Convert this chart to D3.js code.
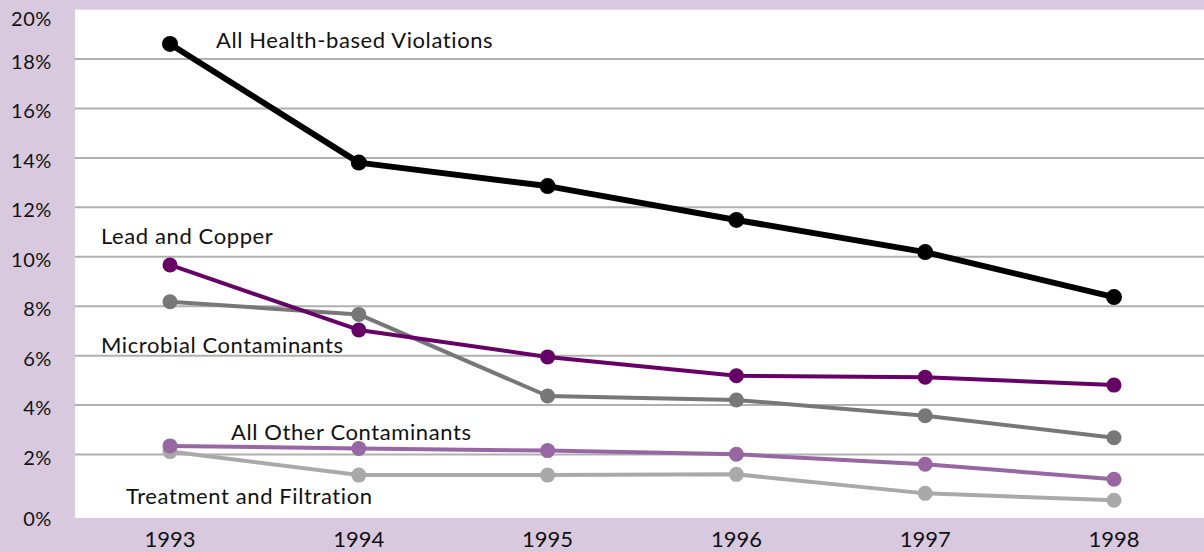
<!DOCTYPE html>
<html><head><meta charset="utf-8">
<script src="https://cdn.jsdelivr.net/npm/d3@7"></script>
<style>html,body{margin:0;padding:0;background:#d9c9df;}svg{display:block;}text{font-variant-ligatures:none;}</style>
</head><body><svg id="c" width="1204" height="552"></svg>
<script>
const years = ["1993","1994","1995","1996","1997","1998"];
const yTicks = [0,2,4,6,8,10,12,14,16,18,20];
const allHealth = [18.61,13.81,12.86,11.49,10.19,8.37];
const leadCopper = [9.67,7.04,5.95,5.19,5.13,4.81];
const microbial = [8.18,7.67,4.37,4.21,3.57,2.68];
const allOther = [2.35,2.25,2.16,2.01,1.61,1.00];
const treatment = [2.12,1.17,1.17,1.20,0.43,0.15];
const seriesNames = ["Treatment and Filtration","All Other Contaminants","Microbial Contaminants","Lead and Copper","All Health-based Violations"];

const series = [
  {name:seriesNames[0], values:treatment, color:"#a9a9a9", w:4, r:7.5, lx:126, ly:495},
  {name:seriesNames[1], values:allOther, color:"#9866a2", w:4, r:7.5, lx:231, ly:431},
  {name:seriesNames[2], values:microbial, color:"#777777", w:4, r:7.5, lx:101, ly:344},
  {name:seriesNames[3], values:leadCopper, color:"#660066", w:4, r:7.5, lx:101, ly:235},
  {name:seriesNames[4], values:allHealth, color:"#000000", w:6, r:8, lx:216, ly:39}
];

const FONT = "Lato, 'DejaVu Sans', sans-serif";
const svg = d3.select("#c");
const W = 1204, H = 552;
const x = d3.scalePoint().domain(years).range([170,1114]);
const y = d3.scaleLinear().domain([0,20]).range([504,9.6]);
const plotLeft = 75, plotTop = y(20), plotBottom = y(0)+14;

svg.append("rect").attr("width",W).attr("height",H).attr("fill","#d9c9df");
svg.append("rect").attr("x",plotLeft).attr("y",plotTop).attr("width",W-plotLeft).attr("height",plotBottom-plotTop).attr("fill","#ffffff");

// gridlines
svg.append("g").selectAll("line").data(yTicks.filter(v=>v>0 && v<20)).join("line")
  .attr("x1",plotLeft).attr("x2",W).attr("y1",d=>y(d)).attr("y2",d=>y(d))
  .attr("stroke","#b0b0b0").attr("stroke-width",2);

// y tick labels
svg.append("g").selectAll("text").data(yTicks).join("text")
  .attr("x",52).attr("y",d=> d===0 ? plotBottom : (d===20 ? y(d)+8 : y(d)+2))
  .attr("text-anchor","end").attr("dominant-baseline","central")
  .attr("font-family",FONT).attr("font-size",20).attr("letter-spacing",0.6).attr("fill","#111")
  .text(d=>d+"%");

// x labels
svg.append("g").selectAll("text").data(years).join("text")
  .attr("x",d=>x(d)).attr("y",538).attr("text-anchor","middle").attr("dominant-baseline","central")
  .attr("font-family",FONT).attr("font-size",22).attr("fill","#111")
  .text(d=>d);

const line = d3.line().x((d,i)=>x(years[i])).y(d=>y(d));
series.forEach(s=>{
  const g = svg.append("g");
  g.append("path").attr("d",line(s.values)).attr("fill","none").attr("stroke",s.color).attr("stroke-width",s.w).attr("stroke-linejoin","round");
  g.selectAll("circle").data(s.values).join("circle")
    .attr("cx",(d,i)=>x(years[i])).attr("cy",d=>y(d)).attr("r",s.r).attr("fill",s.color);
});
series.forEach(s=>{
  svg.append("text").attr("x",s.lx).attr("y",s.ly).attr("dominant-baseline","central")
    .attr("font-family",FONT).attr("font-size",22).attr("letter-spacing",0.6).attr("fill","#111")
    .text(s.name);
});
</script></body></html>
